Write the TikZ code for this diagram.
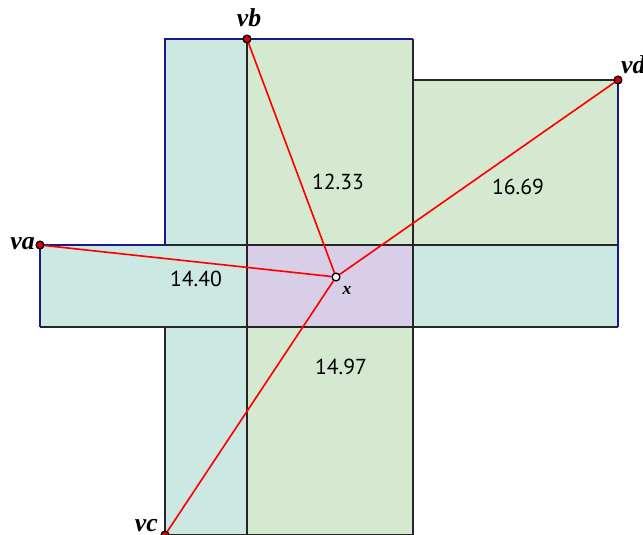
\documentclass[tikz,border=0pt]{standalone}
\usepackage{fontspec}
\newfontfamily\numfont{PT Sans}
\newfontfamily\ptfont{Liberation Serif}
\usetikzlibrary{positioning}

\definecolor{tealfill}{RGB}{204,232,227}
\definecolor{greenfill}{RGB}{212,233,207}
\definecolor{lilacfill}{RGB}{216,206,232}
\definecolor{rimblue}{RGB}{25,25,140}

\begin{document}
\begin{tikzpicture}[
  x=0.03cm, y=-0.03cm,
  grid/.style={draw=black!85, line width=1.4pt},
  rim/.style={draw=rimblue, line width=1.4pt},
  dist/.style={draw=red, line width=1.4pt},
  vertex/.style={circle, draw=black, fill=red!85!black, line width=1pt,
    inner sep=0pt, minimum size=6.5pt},
  probe/.style={vertex, fill=white},
  vname/.style={font=\ptfont\fontsize{22}{24}\selectfont\bfseries\itshape, inner sep=0pt},
  value/.style={font=\numfont\fontsize{18.5}{20}\selectfont},
]
\useasboundingbox (0,0) rectangle (643,535);

% Strips of the cross
\fill[tealfill]  (165,39)  rectangle (247,535);
\fill[greenfill] (247,39)  rectangle (413,535);
\fill[greenfill] (413,80)  rectangle (618,245);
\fill[tealfill]  (40,245)  rectangle (618,327);
\fill[lilacfill] (247,245) rectangle (413,327);

% Inner grid lines
\draw[grid] (247,39) -- (247,535);
\draw[grid] (413,39) -- (413,535);
\draw[grid] (165,245) -- (618,245);
\draw[grid] (40,327) -- (618,327);
\draw[grid] (165,327) -- (165,535);
\draw[grid] (413,80) -- (618,80);
\draw[grid] (165,535) -- (413,535);

% Outer rim in blue
\draw[rim] (165,245) -- (165,39) -- (413,39);
\draw[rim] (618,80) -- (618,327);
\draw[rim] (165,245) -- (40,245) -- (40,327);

% Vertices and the inner point
\node[vertex] (va) at (40,245) {};
\node[vertex] (vb) at (247,39) {};
\node[vertex] (vc) at (165,535) {};
\node[vertex] (vd) at (618,80) {};
\node[probe]  (x)  at (336,277) {};

% Distances from x
\draw[dist] (x) -- (va);
\draw[dist] (x) -- (vb);
\draw[dist] (x) -- (vc);
\draw[dist] (x) -- (vd);
\foreach \v in {va,vb,vc,vd} \node[vertex] at (\v) {};
\node[probe] at (x) {};

% Names
\node[vname, anchor=base east] at (35,249) {va};
\node[vname, anchor=base] at (249,27) {vb};
\node[vname, anchor=base east] at (158,531) {vc};
\node[vname, anchor=base west] at (621,74) {vd};
\node[vname, font=\ptfont\fontsize{15}{16}\selectfont\bfseries\itshape, anchor=base] at (347,294) {x};

% Lengths
\node[value] at (338,182) {12.33};
\node[value] at (518,187) {16.69};
\node[value] at (196,279) {14.40};
\node[value] at (341,367) {14.97};

\end{tikzpicture}
\end{document}
